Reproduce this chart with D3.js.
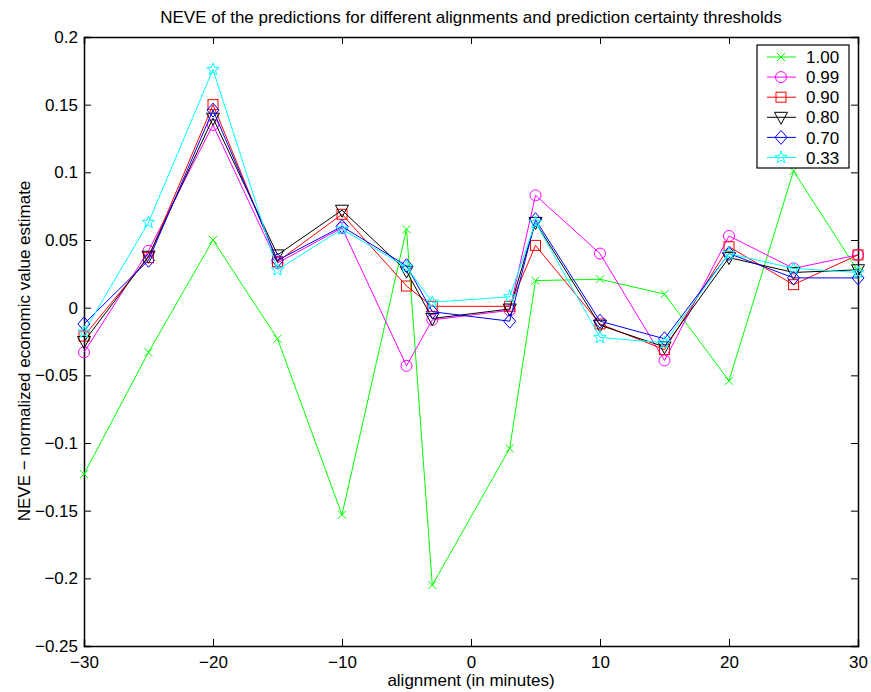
<!DOCTYPE html>
<html>
<head>
<meta charset="utf-8">
<script src="https://cdn.jsdelivr.net/npm/d3@7"></script>
<style>
  body { margin: 0; background: #fff; }
  text { font-family: "Liberation Sans", Arial, sans-serif; fill: #000; }
</style>
</head>
<body>
<div id="chart"></div>
<script>
// alignments (minutes)
var alignments = [-30, -25, -20, -15, -10, -5, -3, 3, 5, 10, 15, 20, 25, 30];
var thresholds = ["1.00", "0.99", "0.90", "0.80", "0.70", "0.33"];
var colors = ["#00ff00", "#ff00ff", "#ff0000", "#000000", "#0000ff", "#00ffff"];
var markers = ["x", "circle", "square", "triangle", "diamond", "star"];

var neve100 = [-0.123, -0.033, 0.050, -0.023, -0.153, 0.058, -0.205, -0.104, 0.020, 0.021, 0.010, -0.054, 0.101, 0.027];
var neve099 = [-0.033, 0.042, 0.135, 0.033, 0.059, -0.043, -0.009, -0.002, 0.083, 0.040, -0.039, 0.053, 0.029, 0.039];
var neve090 = [-0.021, 0.037, 0.150, 0.034, 0.069, 0.016, 0.001, 0.001, 0.046, -0.012, -0.031, 0.045, 0.017, 0.039];
var neve080 = [-0.025, 0.038, 0.140, 0.039, 0.072, 0.027, -0.008, -0.001, 0.063, -0.013, -0.029, 0.037, 0.026, 0.028];
var neve070 = [-0.012, 0.035, 0.146, 0.035, 0.060, 0.031, -0.003, -0.010, 0.065, -0.010, -0.023, 0.040, 0.022, 0.022];
var neve033 = [-0.018, 0.063, 0.176, 0.028, 0.058, 0.030, 0.004, 0.008, 0.063, -0.022, -0.026, 0.040, 0.029, 0.026];

var series = [neve100, neve099, neve090, neve080, neve070, neve033];

var xTicks = [-30, -20, -10, 0, 10, 20, 30];
var yTicks = [-0.25, -0.2, -0.15, -0.1, -0.05, 0, 0.05, 0.1, 0.15, 0.2];

var W = 871, H = 692,
  margin = {top: 37, right: 13, bottom: 46, left: 84},
  width = W - margin.left - margin.right,
  height = H - margin.top - margin.bottom;

var svg = d3.select("#chart").append("svg")
  .attr("width", W)
  .attr("height", H);

var g = svg.append("g")
  .attr("transform", "translate(" + margin.left + "," + margin.top + ")");

var x = d3.scaleLinear().domain([-30, 30]).range([0, width]),
  y = d3.scaleLinear().domain([-0.25, 0.2]).range([height, 0]);

function fmtY(d) {
  var s = d === 0 ? "0" : String(Math.round(d * 100) / 100);
  return s.replace("-", "\u2212");
}
function fmtX(d) {
  return String(d).replace("-", "\u2212");
}

// axes: ticks pointing inwards, labels outside (matlab style)
var xAxis = d3.axisBottom(x).tickValues(xTicks).tickSize(-7).tickPadding(10).tickFormat(fmtX);
var yAxis = d3.axisLeft(y).tickValues(yTicks).tickSize(-7).tickPadding(6).tickFormat(fmtY);

g.append("g")
  .attr("class", "x axis")
  .attr("transform", "translate(0," + height + ")")
  .call(xAxis);
g.append("g")
  .attr("class", "y axis")
  .call(yAxis);
g.append("g")
  .attr("class", "x axis top")
  .call(d3.axisTop(x).tickValues(xTicks).tickSize(-7).tickFormat(""));
g.append("g")
  .attr("class", "y axis right")
  .attr("transform", "translate(" + width + ",0)")
  .call(d3.axisRight(y).tickValues(yTicks).tickSize(-7).tickFormat(""));

g.selectAll(".axis path").attr("stroke", "#000").attr("stroke-width", 1.5);
g.selectAll(".axis line").attr("stroke", "#000");
g.selectAll(".axis text")
  .style("font-family", "'Liberation Sans', Arial, sans-serif")
  .style("font-size", "17px")
  .attr("fill", "#000");

// marker shapes
function drawMarker(sel, type, color) {
  var s = 5;
  if (type === "x") {
    sel.append("path").attr("d", "M-4,-4L4,4M-4,4L4,-4");
  } else if (type === "circle") {
    sel.append("circle").attr("r", 5.5);
  } else if (type === "square") {
    sel.append("rect").attr("x", -s).attr("y", -s).attr("width", 2 * s).attr("height", 2 * s);
  } else if (type === "triangle") {
    sel.append("path").attr("d", "M-6.5,-5L6.5,-5L0,7Z");
  } else if (type === "diamond") {
    sel.append("path").attr("d", "M0,-7L6,0L0,7L-6,0Z");
  } else if (type === "star") {
    var pts = [];
    for (var k = 0; k < 10; k++) {
      var r = k % 2 === 0 ? 6.5 : 2.7,
        a = -Math.PI / 2 + k * Math.PI / 5;
      pts.push([r * Math.cos(a), r * Math.sin(a)]);
    }
    sel.append("path").attr("d", "M" + pts.join("L") + "Z");
  }
  sel.selectAll("*")
    .attr("fill", "none")
    .attr("stroke", color)
    .attr("stroke-width", 1);
}

var line = d3.line()
  .x(function(d, i) { return x(alignments[i]); })
  .y(function(d) { return y(d); });

series.forEach(function(vals, si) {
  g.append("path")
    .datum(vals)
    .attr("class", "line")
    .attr("fill", "none")
    .attr("stroke", colors[si])
    .attr("stroke-width", 1)
    .attr("d", line);

  g.selectAll(".mk" + si)
    .data(vals)
    .enter().append("g")
    .attr("class", "mk" + si)
    .attr("transform", function(d, i) {
      return "translate(" + x(alignments[i]) + "," + y(d) + ")";
    })
    .each(function() { drawMarker(d3.select(this), markers[si], colors[si]); });
});

// legend
var legend = svg.append("g")
  .attr("class", "legend")
  .attr("transform", "translate(757,45)");

legend.append("rect")
  .attr("width", 92)
  .attr("height", 123)
  .attr("fill", "#fff")
  .attr("stroke", "#000")
  .attr("stroke-width", 1.2);

var keys = legend.selectAll(".key")
  .data(thresholds)
  .enter().append("g")
  .attr("class", "key")
  .attr("transform", function(d, i) { return "translate(0," + (12 + i * 20.1) + ")"; });

keys.append("line")
  .attr("x1", 10).attr("x2", 39)
  .attr("stroke", function(d, i) { return colors[i]; })
  .attr("stroke-width", 1);

keys.append("g")
  .attr("transform", "translate(24,0)")
  .each(function(d, i) { drawMarker(d3.select(this), markers[i], colors[i]); });

keys.append("text")
  .attr("x", 49)
  .attr("dy", "0.36em")
  .style("font-size", "17px")
  .text(function(d) { return d; });

// title and axis labels
svg.append("text")
  .attr("x", margin.left + width / 2)
  .attr("y", 23)
  .attr("text-anchor", "middle")
  .style("font-size", "17px")
  .text("NEVE of the predictions for different alignments and prediction certainty thresholds");

svg.append("text")
  .attr("x", margin.left + width / 2)
  .attr("y", 686)
  .attr("text-anchor", "middle")
  .style("font-size", "17px")
  .text("alignment (in minutes)");

svg.append("text")
  .attr("transform", "translate(30,351) rotate(-90)")
  .attr("text-anchor", "middle")
  .style("font-size", "17px")
  .text("NEVE \u2212 normalized economic value estimate");
</script>
</body>
</html>
